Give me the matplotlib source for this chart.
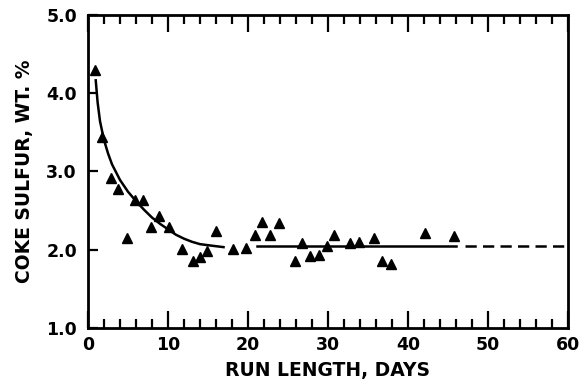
import matplotlib as mpl
mpl.use("Agg")
import numpy as np
from matplotlib import pyplot as plt

# measured coke sulfur vs run length
run_days = [0.9, 1.7, 2.9, 3.8, 4.9, 5.9, 6.9, 7.9, 8.9, 10.1, 11.8, 13.1, 14.0,
            14.9, 16.0, 18.1, 19.7, 20.9, 21.8, 22.8, 23.9, 25.9, 26.8, 27.8,
            28.9, 29.9, 30.7, 32.8, 33.9, 35.7, 36.8, 37.9, 42.1, 45.8]
sulfur = [4.30, 3.44, 2.91, 2.77, 2.15, 2.63, 2.63, 2.29, 2.43, 2.29, 2.01, 1.85,
          1.90, 1.98, 2.24, 2.01, 2.02, 2.19, 2.35, 2.19, 2.34, 1.85, 2.09, 1.92,
          1.93, 2.05, 2.19, 2.09, 2.10, 2.15, 1.85, 1.82, 2.21, 2.17]

# decline curve
curve_days = [0.95, 1.2, 1.5, 2.0, 2.5, 3.0, 4.0, 5.0, 6.0, 7.0, 8.0, 9.0,
              10.0, 11.0, 12.0, 13.0, 14.0, 15.5, 17.1]
curve_sulfur = [4.18, 3.88, 3.64, 3.40, 3.23, 3.09, 2.89, 2.74, 2.62, 2.51, 2.41,
                2.33, 2.26, 2.19, 2.14, 2.10, 2.07, 2.05, 2.03]

# steady level: solid over the data, dashed as extrapolation
steady_solid_days = [21.1, 46.0]
steady_dash_days = [47.2, 60.0]
steady_level = [2.04, 2.04]

fig = plt.figure(figsize=(5.83, 3.83), dpi=100)
ax = fig.add_axes([0.151, 0.144, 0.823, 0.817])

ax.plot(curve_days, curve_sulfur, color="black", lw=1.8, solid_capstyle="butt",
        solid_joinstyle="round")
ax.plot(steady_solid_days, steady_level, color="black", lw=1.8)
ax.plot(steady_dash_days, steady_level, color="black", lw=1.8, dashes=(4.5, 2.5))
ax.plot(run_days, sulfur, "^", color="black", markersize=7, clip_on=False)

ax.set_xlim(0, 60)
ax.set_ylim(1.0, 5.0)
ax.set_xticks(np.arange(0, 61, 10))
ax.set_xticks(np.arange(0, 61, 2), minor=True)
ax.set_yticks([1.0, 2.0, 3.0, 4.0, 5.0])
ax.set_yticklabels(["1.0", "2.0", "3.0", "4.0", "5.0"])

for s in ax.spines.values():
    s.set_linewidth(2.0)

ax.tick_params(axis="x", which="major", direction="in", length=12, width=1.6,
               labelsize=12.5, pad=6)
ax.tick_params(axis="x", which="minor", direction="in", length=6.5, width=1.6)
ax.tick_params(axis="x", which="both", top=True)
ax.tick_params(axis="y", which="major", direction="in", length=7, width=1.6,
               labelsize=12.5, pad=8, right=False)
ax.tick_params(axis="y", which="minor", left=False, right=False)
for lab in ax.get_xticklabels() + ax.get_yticklabels():
    lab.set_fontweight("bold")

ax.set_xlabel("RUN LENGTH, DAYS", fontsize=13.5, fontweight="bold", labelpad=5)
ax.set_ylabel("COKE SULFUR, WT. %", fontsize=13.5, fontweight="bold", labelpad=9)

fig.savefig("out.png", dpi=100)
